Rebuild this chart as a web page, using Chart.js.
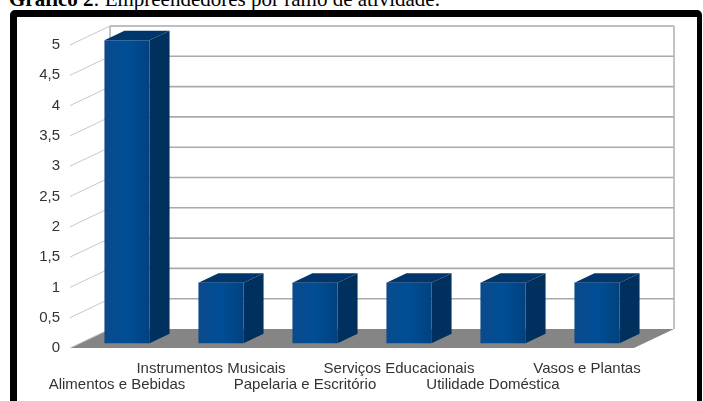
<!DOCTYPE html>
<html>
<head>
<meta charset="utf-8">
<script src="https://cdn.jsdelivr.net/npm/chart.js@4/dist/chart.umd.min.js"></script>
<style>
  body { margin: 0; width: 703px; height: 401px; overflow: hidden; background: #fff; position: relative; }
  #title { position: absolute; left: 9px; top: -12px; font-family: "Liberation Serif", "Times New Roman", serif; font-size: 21px; line-height: 23px; color: #000; white-space: nowrap; }
  #frame { position: absolute; left: 10px; top: 10px; width: 680px; height: 430px; border: 7px solid #000; border-right-width: 5px; border-radius: 5px; }
  #chart { position: absolute; left: 0; top: 0; }
</style>
</head>
<body>
<div id="title"><b>Gráfico 2</b>: Empreendedores por ramo de atividade.</div>
<div id="frame"></div>
<canvas id="chart" width="703" height="401"></canvas>
<script>
const categories = [
  "Alimentos e Bebidas",
  "Instrumentos Musicais",
  "Papelaria e Escritório",
  "Serviços Educacionais",
  "Utilidade Doméstica",
  "Vasos e Plantas"
];
const empreendedores = [5, 1, 1, 1, 1, 1];
const yTickLabels = ["0", "0,5", "1", "1,5", "2", "2,5", "3", "3,5", "4", "4,5", "5"];

// how far the back wall sits behind the front plane
const DX = 40, DY = -19;

const box3d = {
  id: "box3d",
  beforeDatasetsDraw(chart) {
    const { ctx, chartArea: a, scales: { y } } = chart;
    ctx.save();
    // floor
    ctx.fillStyle = "#858585";
    ctx.beginPath();
    ctx.moveTo(a.left, a.bottom);
    ctx.lineTo(a.right, a.bottom);
    ctx.lineTo(a.right + DX, a.bottom + DY);
    ctx.lineTo(a.left + DX, a.bottom + DY);
    ctx.closePath();
    ctx.fill();

    // back wall grid + side wall diagonals
    y.ticks.forEach(t => {
      const py = y.getPixelForValue(t.value);
      ctx.strokeStyle = "#c8c8c8";
      ctx.lineWidth = 1;
      ctx.beginPath();
      ctx.moveTo(a.left, py);
      ctx.lineTo(a.left + DX, py + DY);
      ctx.stroke();
      if (t.value > 0) {
        ctx.strokeStyle = "#aaaaaa";
        ctx.lineWidth = 1.6;
        ctx.beginPath();
        ctx.moveTo(a.left + DX, py + DY);
        ctx.lineTo(a.right + DX, py + DY);
        ctx.stroke();
      }
    });
    // wall edges
    ctx.strokeStyle = "#b5b5b5";
    ctx.lineWidth = 1.6;
    ctx.beginPath();
    ctx.moveTo(a.left + DX, a.top + DY);
    ctx.lineTo(a.left + DX, a.bottom + DY);
    ctx.moveTo(a.right + DX, a.top + DY);
    ctx.lineTo(a.right + DX, a.bottom + DY);
    ctx.stroke();
    ctx.restore();
  },
  afterDatasetsDraw(chart) {
    const ctx = chart.ctx;
    chart.getDatasetMeta(0).data.forEach(el => {
      const { x, y, base, width } = el.getProps(["x", "y", "base", "width"], true);
      const x0 = x - width / 2 + DX * 0.25;
      const x1 = x0 + width;
      const top = y + DY * 0.25;
      const bot = base + DY * 0.25;
      const ox = DX * 0.5, oy = DY * 0.5;
      ctx.save();
      // side
      ctx.fillStyle = "#00305e";
      ctx.beginPath();
      ctx.moveTo(x1, top);
      ctx.lineTo(x1 + ox, top + oy);
      ctx.lineTo(x1 + ox, bot + oy);
      ctx.lineTo(x1, bot);
      ctx.closePath();
      ctx.fill();
      // top
      ctx.fillStyle = "#00366c";
      ctx.beginPath();
      ctx.moveTo(x0, top);
      ctx.lineTo(x0 + ox, top + oy);
      ctx.lineTo(x1 + ox, top + oy);
      ctx.lineTo(x1, top);
      ctx.closePath();
      ctx.fill();
      // front
      const g = ctx.createLinearGradient(x0, 0, x1, 0);
      g.addColorStop(0, "#0a4a8c");
      g.addColorStop(0.5, "#004e96");
      g.addColorStop(1, "#00427f");
      ctx.fillStyle = g;
      ctx.fillRect(x0, top, width, bot - top);
      ctx.restore();
    });
  }
};

new Chart(document.getElementById("chart"), {
  type: "bar",
  data: {
    labels: categories,
    datasets: [{
      data: empreendedores,
      backgroundColor: "rgba(0,0,0,0)",
      borderWidth: 0,
      barPercentage: 0.48,
      categoryPercentage: 1
    }]
  },
  options: {
    responsive: false,
    animation: false,
    layout: { padding: { left: 0, right: 69, top: 45, bottom: 0 } },
    plugins: { legend: { display: false }, tooltip: { enabled: false } },
    scales: {
      x: {
        grid: { display: false, drawTicks: false },
        border: { display: false },
        ticks: {
          padding: 13,
          maxRotation: 0,
          autoSkip: false,
          color: "#333",
          font: { family: "'Liberation Sans', Arial, sans-serif", size: 15, lineHeight: "16px" },
          // staggered labels: even categories go on the second row
          callback: (v, i) => i % 2 === 0 ? ["", categories[i]] : [categories[i]]
        },
        afterFit: s => { s.height = 53; }
      },
      y: {
        min: 0,
        max: 5,
        grid: { display: false, drawTicks: false },
        border: { display: false },
        ticks: {
          stepSize: 0.5,
          padding: 10,
          color: "#333",
          font: { family: "'Liberation Sans', Arial, sans-serif", size: 15 },
          callback: (v, i) => yTickLabels[i]
        },
        afterFit: s => { s.width = 70; }
      }
    }
  },
  plugins: [box3d]
});
</script>
</body>
</html>
